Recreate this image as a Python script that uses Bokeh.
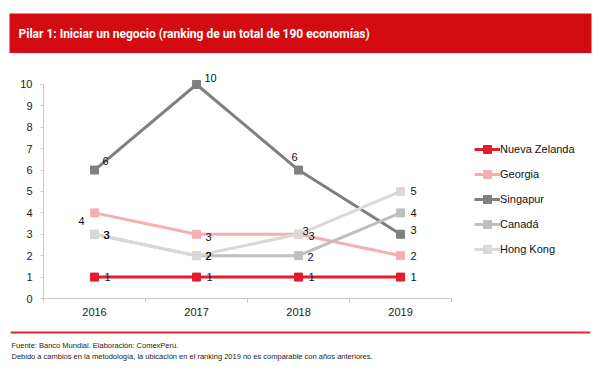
from bokeh.plotting import figure
from bokeh.models import (Range1d, FixedTicker, Legend, LegendItem, Label, Span, ColumnDataSource)
from bokeh.layouts import column
from bokeh.embed import file_html
from bokeh.resources import INLINE
from bokeh.core.properties import value

# ---- data ----
years = ["2016", "2017", "2018", "2019"]
series_names = ["Nueva Zelanda", "Georgia", "Singapur", "Canadá", "Hong Kong"]
nueva_zelanda = [1, 1, 1, 1]
georgia = [4, 3, 3, 2]
singapur = [6, 10, 6, 3]
canada = [3, 2, 2, 4]
hong_kong = [3, 2, 3, 5]
y_ticks = list(range(0, 11))

title_text = "Pilar 1: Iniciar un negocio (ranking de un total de 190 economías)"
source_text = "Fuente: Banco Mundial. Elaboración: ComexPerú."
note_text = "Debido a cambios en la metodología, la ubicación en el ranking 2019 no es comparable con años anteriores."

# ---- styles ----
colors = ["#E31B2E", "#F3AFB1", "#7F7F7F", "#BFBFBF", "#D9D9D9"]
label_offsets = [
    [(13, 0), (13, 0), (13, 0), (13, 0)],
    [(-13, 8), (12, 3), (13, 2), (13, 0)],
    [(11, -9), (14, -6), (-4, -13), (13, -4)],
    [(12, 1), (12, 0), (12, 1), (13, 0)],
    [(12, 1), (12, 0), (7, -3), (13, 0)],
]
FONT = "Liberation Sans"
W = 600


def unalign(fig):
    if "frame_align" in fig.properties():
        fig.frame_align = False


# ---- header ----
header = figure(width=W, height=53, x_range=Range1d(0, 1), y_range=Range1d(0, 1),
                output_backend="svg", toolbar_location=None,
                x_axis_location=None, y_axis_location=None,
                min_border_top=13, min_border_bottom=0, min_border_left=9, min_border_right=9,
                background_fill_color="#D20C11", outline_line_color=None,
                border_fill_color="white")
header.grid.visible = False
header.add_layout(Label(x=0, y=0.5, x_offset=9, text=title_text, text_color="white",
                        text_font="Roboto", text_font_style="bold",
                        text_font_size="12px", text_baseline="middle"))
unalign(header)

# ---- main chart ----
x_idx = list(range(len(years)))
p = figure(width=W, height=272, x_range=Range1d(-0.5, 4.96), y_range=Range1d(0, 10.7),
           output_backend="svg", toolbar_location=None,
           min_border_left=43, min_border_right=0, min_border_top=16, min_border_bottom=27,
           outline_line_color=None, background_fill_color="white", border_fill_color="white")
p.grid.visible = False
unalign(p)

p.yaxis.ticker = FixedTicker(ticks=y_ticks)
p.yaxis.bounds = (0, 10)
p.yaxis.axis_line_color = "#C8C8C8"
p.yaxis.major_tick_line_color = "#C8C8C8"
p.yaxis.major_tick_out = 3
p.yaxis.major_tick_in = 0
p.yaxis.minor_tick_line_color = None
p.yaxis.major_label_text_font = FONT
p.yaxis.major_label_text_font_size = "11px"
p.yaxis.major_label_text_color = "#222222"
p.yaxis.major_label_standoff = 8

p.xaxis.ticker = FixedTicker(ticks=x_idx, minor_ticks=[i - 0.5 for i in range(len(years) + 1)])
p.xaxis.bounds = (-0.5, len(years) - 0.5)
p.xaxis.major_label_overrides = {i: y for i, y in enumerate(years)}
p.xaxis.axis_line_color = "#C8C8C8"
p.xaxis.major_tick_line_color = None
p.xaxis.minor_tick_line_color = "#C8C8C8"
p.xaxis.minor_tick_out = 4
p.xaxis.minor_tick_in = 0
p.xaxis.major_label_text_font = FONT
p.xaxis.major_label_text_font_size = "11px"
p.xaxis.major_label_text_color = "#222222"
p.xaxis.major_label_standoff = 3

all_series = [nueva_zelanda, georgia, singapur, canada, hong_kong]
items = []
for name, vals, col in zip(series_names, all_series, colors):
    src = ColumnDataSource(dict(x=x_idx, y=vals))
    r1 = p.line("x", "y", source=src, line_color=col, line_width=3)
    r2 = p.scatter("x", "y", source=src, marker="square", size=8, fill_color=col, line_color=col)
    items.append(LegendItem(label=name, renderers=[r1, r2]))

for vals, offs in zip(all_series, label_offsets):
    src = ColumnDataSource(dict(x=x_idx, y=vals, t=[str(v) for v in vals],
                                dx=[o[0] for o in offs], dy=[o[1] for o in offs]))
    p.text("x", "y", text="t", source=src, x_offset="dx", y_offset="dy",
           text_font=value(FONT), text_font_size="11px", text_color="#111111",
           text_align="center", text_baseline="middle")

legend = Legend(items=items, location=(431, 39), border_line_color=None,
                background_fill_alpha=0, label_text_font=FONT, label_text_font_size="11px",
                label_text_color="#111111", glyph_width=26, glyph_height=20, label_height=20,
                label_standoff=0, spacing=5, padding=0, margin=0)
p.add_layout(legend)

# ---- footer ----
footer = figure(width=W, height=44, x_range=Range1d(0, 1), y_range=Range1d(44, 0),
                output_backend="svg", toolbar_location=None,
                x_axis_location=None, y_axis_location=None,
                min_border_top=0, min_border_bottom=0, min_border_left=10, min_border_right=10,
                outline_line_color=None, background_fill_color="white", border_fill_color="white")
footer.grid.visible = False
unalign(footer)
footer.add_layout(Span(location=7, dimension="width", line_color="#E3222E", line_width=2))
footer.add_layout(Label(x=0, y=20, x_offset=1, text=source_text, text_font=FONT,
                        text_font_size="7.5px", text_color="#222222", text_baseline="middle"))
footer.add_layout(Label(x=0, y=31, x_offset=1, text=note_text, text_font=FONT,
                        text_font_size="7.5px", text_color="#222222", text_baseline="middle"))

layout = column(header, p, footer, spacing=0)
open("out.html", "w").write(file_html(layout, INLINE))
